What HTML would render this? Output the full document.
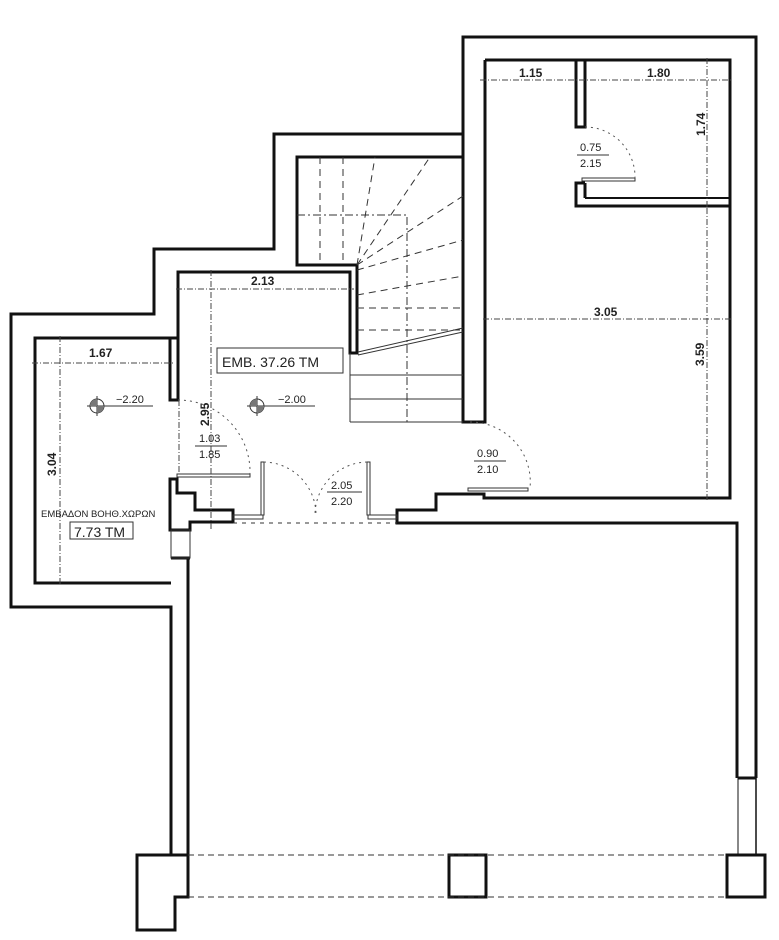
<!DOCTYPE html>
<html><head><meta charset="utf-8"><style>
html,body{margin:0;padding:0;background:#fff;}
svg{display:block}
text{font-family:"Liberation Sans","DejaVu Sans",sans-serif;fill:#222}
</style></head><body>
<svg width="779" height="940" viewBox="0 0 779 940" xmlns="http://www.w3.org/2000/svg">
<rect width="779" height="940" fill="#fff"/>
<g fill="none" stroke="#111" stroke-width="3" stroke-linejoin="miter">
<polyline points="171,855 171,607 11,607 11,314 154,314 154,249 274,249 274,134 463,134 463,37 756,37 756,778"/>
<line x1="756" y1="778" x2="756" y2="855" stroke-width="1.5"/>
<line x1="738" y1="778" x2="738" y2="855" stroke-width="1"/>
<polyline points="738,778 756,778"/>
<polyline points="188,855 188,558"/>
<polyline points="171,583 35,583 35,338 171,338"/>
<rect x="170" y="338" width="8" height="62"/>
<polyline points="178,338 178,272 350,272 350,353 357,353 357,265 297,265 297,157 463,157"/>
<polyline points="463,60 463,422 485,422 485,60"/>
<polyline points="485,60 730,60 730,498 484,498 484,494 436,494 436,510 397,510 397,523 737,523 737,778"/>
<rect x="576" y="60" width="9" height="67"/>
<polyline points="585,183 576,183 576,206 730,206"/>
<line x1="585" y1="183" x2="585" y2="198"/>
<line x1="585" y1="198" x2="730" y2="198" stroke-width="2"/>
<polygon points="170,479 177,479 177,493 195,493 195,510 233,510 233,522 190,522 190,530 170,530"/>
<polyline points="171,558 190,558"/>
<polygon points="137,855 188,855 188,897 175,897 175,930 137,930"/>
<rect x="449" y="855" width="37" height="42"/>
<rect x="727" y="855" width="38" height="42"/>
</g>
<g fill="none" stroke="#333" stroke-width="1">
<line x1="188" y1="855" x2="727" y2="855" stroke-dasharray="6,4"/>
<line x1="188" y1="897" x2="727" y2="897" stroke-dasharray="6,4"/>
<line x1="350" y1="375" x2="463" y2="375"/>
<line x1="350" y1="399" x2="463" y2="399"/>
<line x1="350" y1="422" x2="463" y2="422"/>
<line x1="350" y1="353" x2="350" y2="422"/>
<line x1="358" y1="352" x2="463" y2="328"/>
<line x1="358" y1="355" x2="463" y2="332"/>
<g stroke-dasharray="7,5">
<line x1="320" y1="157" x2="320" y2="265"/>
<line x1="343" y1="157" x2="343" y2="265"/>
<line x1="357" y1="265" x2="375" y2="157"/>
<line x1="357" y1="265" x2="430" y2="157"/>
<line x1="357" y1="265" x2="463" y2="196"/>
<line x1="357" y1="270" x2="463" y2="240"/>
<line x1="357" y1="295" x2="463" y2="276"/>
<line x1="357" y1="308" x2="463" y2="308"/>
<line x1="357" y1="330" x2="463" y2="330"/>
</g>
<polyline points="297,215 407,215 407,422" stroke-dasharray="8,3,2,3"/>
<rect x="177" y="474" width="73" height="3"/>
<rect x="261" y="462" width="3" height="53"/>
<rect x="367" y="462" width="3" height="53"/>
<rect x="233" y="515" width="30" height="4"/>
<rect x="368" y="515" width="29" height="4"/>
<rect x="171" y="530" width="19" height="28"/>
<rect x="468" y="488" width="60" height="3"/>
<rect x="582" y="178" width="53" height="3"/>
<line x1="233" y1="523" x2="397" y2="523" stroke-dasharray="4,5"/>
<g stroke-dasharray="2,4" stroke="#555">
<path d="M178,400 A72,72 0 0 1 250,474"/>
<path d="M264,462 A53,53 0 0 1 316,515"/>
<path d="M367,462 A53,53 0 0 0 315,515"/>
<path d="M470,422 A60,60 0 0 1 530,488"/>
<path d="M585,127 A50,50 0 0 1 635,178"/>
</g>
<g stroke-dasharray="6,2,1,2" stroke="#444">
<line x1="176" y1="289" x2="354" y2="289"/>
<line x1="32" y1="363" x2="174" y2="363"/>
<line x1="211" y1="270" x2="211" y2="530"/>
<line x1="60" y1="336" x2="60" y2="585"/>
<line x1="480" y1="80" x2="733" y2="80"/>
<line x1="707" y1="58" x2="707" y2="208"/>
<line x1="483" y1="319" x2="733" y2="319"/>
<line x1="707" y1="208" x2="707" y2="500"/>
<line x1="179" y1="400" x2="179" y2="474"/>
</g>
<circle cx="97" cy="406" r="7"/><line x1="97" y1="396" x2="97" y2="416"/><line x1="87" y1="406" x2="153" y2="406"/>
<path d="M97,406 L104,406 A7,7 0 0 1 97,413 Z M97,406 L90,406 A7,7 0 0 1 97,399 Z" fill="#777" stroke="none"/>
<circle cx="257" cy="406" r="7"/><line x1="257" y1="396" x2="257" y2="416"/><line x1="247" y1="406" x2="315" y2="406"/>
<path d="M257,406 L264,406 A7,7 0 0 1 257,413 Z M257,406 L250,406 A7,7 0 0 1 257,399 Z" fill="#777" stroke="none"/>
<line x1="195" y1="446" x2="227" y2="446"/>
<line x1="327" y1="492" x2="362" y2="492"/>
<line x1="474" y1="461" x2="506" y2="461"/>
<line x1="577" y1="155" x2="609" y2="155"/>
</g>
<g font-size="12" font-weight="bold">
<text x="251" y="285">2.13</text>
<text x="89" y="357">1.67</text>
<text x="519" y="77">1.15</text>
<text x="647" y="77">1.80</text>
<text x="594" y="316">3.05</text>
<text transform="translate(209,426) rotate(-90)">2.95</text>
<text transform="translate(56,476) rotate(-90)">3.04</text>
<text transform="translate(705,136) rotate(-90)">1.74</text>
<text transform="translate(704,366) rotate(-90)">3.59</text>
</g>
<g font-size="11" fill="#333">
<text x="116" y="403">−2.20</text>
<text x="278" y="403">−2.00</text>
<text x="199" y="442">1.03</text>
<text x="199" y="458">1.85</text>
<text x="331" y="489">2.05</text>
<text x="331" y="505">2.20</text>
<text x="477" y="457">0.90</text>
<text x="477" y="473">2.10</text>
<text x="580" y="151">0.75</text>
<text x="580" y="167">2.15</text>
</g>
<rect x="217" y="348" width="126" height="25" fill="none" stroke="#333" stroke-width="1"/>
<text x="222" y="367" font-size="14">EMB. 37.26 TM</text>
<text x="41" y="517" font-size="9.5">ΕΜΒΑΔΟΝ ΒΟΗΘ.ΧΩΡΩΝ</text>
<rect x="70" y="522" width="63" height="17" fill="none" stroke="#333" stroke-width="1"/>
<text x="74" y="537" font-size="14">7.73 TM</text>
</svg>
</body></html>
